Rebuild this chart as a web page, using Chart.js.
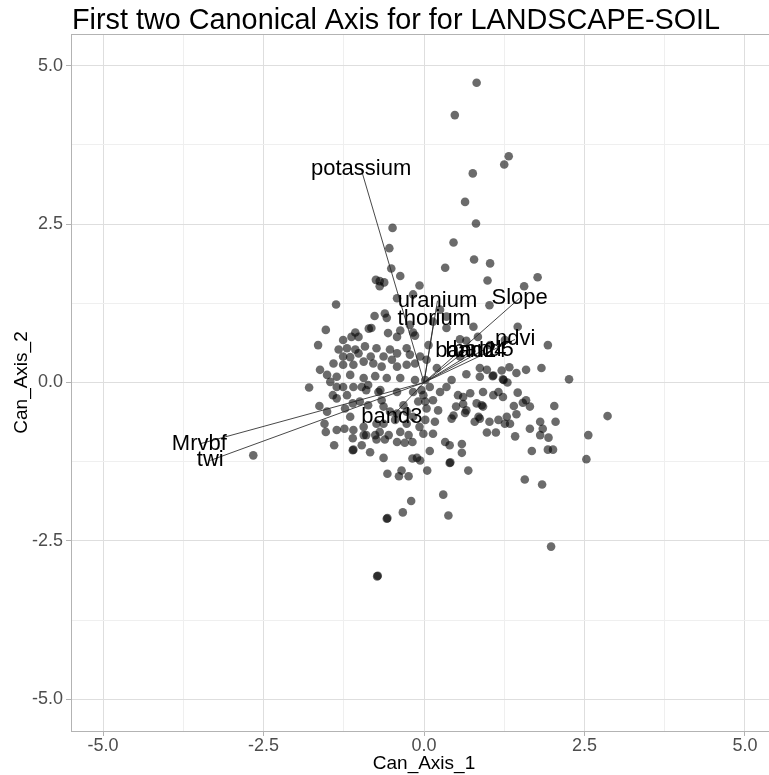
<!DOCTYPE html>
<html>
<head>
<meta charset="utf-8">
<title>Canonical Axis - LANDSCAPE-SOIL</title>
<style>
html, body { margin: 0; padding: 0; overflow: hidden; background: #fff; }
canvas { display: block; }
</style>
<script src="https://cdn.jsdelivr.net/npm/chart.js@4.4.1/dist/chart.umd.min.js"></script>
</head>
<body>
<canvas id="cva" width="785" height="775"></canvas>
<script>
// canonical scores of the sites (first two axes)
var canAxis1 = [
  0.82, 0.48, 1.32, 1.25, 0.76, 0.64, -0.49, 0.81, -0.54, 0.46,
  0.78, 1.03, 0.33, -0.51, -0.37, -0.75, -0.69, -0.62, -0.69, -0.07,
  0.99, 1.77, 1.56, -1.37, -0.42, -0.17, 1.02, -0.77, -0.61, -0.58,
  -0.82, -1.07, -1.13, -0.56, -0.42, -0.17, 0.14, 1.46, 1.93, 1.83,
  2.26, 1.59, 1.44, 1.33, 1.21, 1.07, 1.23, 1.30, 0.87, 0.98,
  0.87, 0.66, 0.56, 1.46, 2.03, 1.59, 1.65, 1.44, 1.40, 1.23,
  1.16, 1.08, 0.90, 0.82, 0.92, 0.72, 0.61, 0.53, 0.66, 0.85,
  0.79, 1.02, 1.16, 1.26, 1.34, 1.29, 0.50, 0.46, 1.81, 1.85,
  1.81, 2.05, 2.86, 2.56, 1.65, 1.42, 1.12, 0.98, 1.93, 2.01,
  1.68, 2.53, 0.59, 0.59, 0.33, 0.40, 0.09, 0.14, -0.01, 0.17,
  0.02, 0.09, 0.02, 0.14, 0.22, 1.54, 1.94, 0.92, 0.64, 0.61,
  0.43, 0.87, 0.40, 0.69, 1.57, 1.84, 0.38, 1.98, -2.66, -1.40,
  -1.53, -1.36, -1.11, -1.11, -0.97, -0.84, -1.10, -0.90, -0.76, -0.69,
  -0.74, -0.61, -0.55, -0.37, -0.24, -0.30, -0.18, -0.63, -0.57, -0.35,
  -0.39, -0.24, -0.18, -0.11, -0.06, 0.05, -0.20, -0.33, -0.58, -0.73,
  0.30, -1.79, -1.63, -1.55, -1.46, -1.36, -1.42, -1.36, -1.20, -1.10,
  -0.97, -0.87, -1.23, -1.11, -1.00, -0.87, -0.71, -1.15, -1.24, -0.94,
  -0.94, -0.42, -0.27, -0.17, -0.07, -0.01, 0.04, -0.09, -0.17, -0.04,
  -0.14, -0.66, -0.63, -0.53, -0.42, -0.32, -0.27, -0.45, -0.63, -0.74,
  -1.51, -0.37, -0.22, 0.35, 0.77, -1.26, -1.02, -0.14, 0.56, 0.66,
  -1.33, -1.20, -1.07, -0.92, -0.74, -0.53, -0.27, 0.07, -1.26, -1.15,
  -1.02, -0.83, -0.63, -0.50, -0.42, -0.22, -0.06, -1.41, -1.26, -1.10,
  -0.94, -0.79, -0.66, -0.42, -0.27, -0.14, 0.20, -1.51, -1.36, -1.15,
  -0.94, -0.76, -0.58, -0.37, 0.02, -1.26, -0.90, -0.68, -0.42, -1.65,
  -1.53, -1.62, 0.25, 0.35, 0.43, 0.35, 0.25, 0.04, 1.03, 1.26,
  0.84, 1.08, -1.10, 0.41, -0.57, -0.72, 1.24, -0.86
];
var canAxis2 = [
  4.73, 4.22, 3.57, 3.44, 3.30, 2.85, 2.44, 2.51, 2.12, 2.21,
  1.94, 1.88, 1.81, 1.80, 1.68, 1.62, 1.60, 1.58, 1.52, 1.53,
  1.61, 1.66, 1.52, 1.23, 1.33, 1.39, 1.22, 1.05, 1.09, 1.02,
  0.86, 0.79, 0.72, 0.78, 0.72, 0.79, 0.96, 0.88, 0.59, 0.23,
  0.05, 0.20, 0.15, 0.24, 0.19, 0.10, 0.05, 0.00, 0.23, 0.20,
  0.09, 0.13, 0.41, -0.16, -0.37, -0.28, -0.38, -0.50, -0.37, -0.23,
  -0.15, -0.20, -0.36, -0.33, -0.15, -0.17, -0.23, -0.20, -0.44, -0.54,
  -0.62, -0.62, -0.59, -0.65, -0.65, -0.54, -0.38, -0.52, -0.62, -0.73,
  -0.83, -0.62, -0.53, -0.83, -0.73, -0.85, -0.79, -0.79, -1.06, -1.06,
  -1.08, -1.21, -0.97, -1.11, -0.94, -0.99, -1.08, -0.81, -0.81, -0.62,
  -0.59, -0.07, -0.30, -0.28, -0.44, -0.32, -0.87, -0.38, -0.48, -0.34,
  -0.57, -0.57, -1.27, -1.39, -1.53, -1.61, -2.10, -2.59, -1.15, -0.99,
  -0.78, -0.75, -0.88, -1.07, -0.99, -1.10, -0.75, -0.83, -0.83, -0.78,
  -0.90, -0.90, -0.83, -0.78, -0.83, -0.95, -0.94, -1.19, -1.44, -1.39,
  -1.48, -1.48, -1.20, -1.19, -1.23, -1.39, -1.87, -2.05, -2.15, -3.06,
  -1.77, -0.08, -0.37, -0.65, 0.01, -0.07, -0.20, -0.25, -0.20, -0.07,
  -0.07, -0.04, -0.41, -0.33, -0.30, -0.36, -0.15, -0.54, -0.73, -0.70,
  -0.83, -0.94, -0.65, -0.54, -0.70, -0.20, -0.41, -0.30, -0.15, -0.12,
  0.04, -0.28, -0.38, -0.46, -0.49, -0.36, -0.46, -0.59, -0.65, -0.65,
  -0.46, 0.82, 0.91, 0.86, 0.88, 0.67, 0.72, 0.74, 0.68, 0.66,
  0.52, 0.54, 0.52, 0.57, 0.54, 0.52, 0.54, 0.59, 0.41, 0.40,
  0.46, 0.41, 0.41, 0.36, 0.46, 0.44, 0.41, 0.30, 0.28, 0.28,
  0.33, 0.30, 0.25, 0.25, 0.28, 0.30, 0.23, 0.12, 0.09, 0.12,
  0.07, 0.10, 0.07, 0.07, 0.04, -0.07, -0.12, -0.12, -0.15, 0.59,
  0.83, 0.20, 1.15, 1.04, 0.04, -0.07, -0.15, 0.36, 0.59, 0.67,
  0.72, 0.11, -1.06, -1.26, -2.14, -3.05, 0.04, 0.85
];

// variable loadings drawn as vectors from the origin
var varNames = ['potassium', 'uranium', 'thorium', 'Slope', 'ndvi', 'band2', 'band4', 'band5', 'band3', 'Mrvbf', 'twi'];
var varAxis1 = [-0.98, 0.21, 0.16, 1.49, 1.42, 0.65, 0.81, 0.92, -0.50, -3.50, -3.33];
var varAxis2 = [3.37, 1.29, 1.01, 1.33, 0.68, 0.50, 0.50, 0.51, -0.54, -0.97, -1.23];

var majorTicks = [-5, -2.5, 0, 2.5, 5];

var FONT = '"Liberation Sans", Arial, Helvetica, sans-serif';
Chart.defaults.font.family = FONT;

function isMajor(v) {
    for (var i = 0; i < majorTicks.length; ++i) {
        if (Math.abs(majorTicks[i] - v) < 1e-6) return true;
    }
    return false;
}
function tickLabel(v) {
    return isMajor(v) ? v.toFixed(1) : '';
}
function gridColor(ctx) {
    if (!ctx.tick) return '#e6e6e6';
    return isMajor(ctx.tick.value) ? '#dedede' : '#efefef';
}
function tickMarkColor(ctx) {
    if (!ctx.tick) return '#b3b3b3';
    return isMajor(ctx.tick.value) ? '#b3b3b3' : 'rgba(0,0,0,0)';
}

var points = [];
for (var i = 0; i < canAxis1.length; ++i) {
    points.push({ x: canAxis1[i], y: canAxis2[i] });
}

var datasets = [{
    label: 'sites',
    data: points,
    pointRadius: 4.3,
    pointHoverRadius: 4.3,
    backgroundColor: 'rgba(0,0,0,0.58)',
    borderWidth: 0,
    order: 2
}];
for (var k = 0; k < varNames.length; ++k) {
    datasets.push({
        label: varNames[k],
        data: [{ x: 0, y: 0 }, { x: varAxis1[k], y: varAxis2[k] }],
        showLine: true,
        pointRadius: 0,
        borderColor: 'rgba(40,40,40,0.85)',
        borderWidth: 1,
        order: 1
    });
}

// title, top panel edge and vector names
var decorations = {
    id: 'decorations',
    afterDatasetsDraw: function (chart) {
        var c = chart.ctx, a = chart.chartArea;
        var sx = chart.scales.x, sy = chart.scales.y;
        c.save();
        c.strokeStyle = '#b3b3b3';
        c.lineWidth = 1;
        c.beginPath();
        c.moveTo(a.left, a.top + 0.5);
        c.lineTo(a.right, a.top + 0.5);
        c.stroke();

        c.fillStyle = '#000';
        c.font = '22px ' + FONT;
        c.textAlign = 'center';
        c.textBaseline = 'middle';
        for (var k = 0; k < varNames.length; ++k) {
            c.fillText(varNames[k], sx.getPixelForValue(varAxis1[k]), sy.getPixelForValue(varAxis2[k]));
        }

        c.font = '28.8px ' + FONT;
        c.textAlign = 'left';
        c.textBaseline = 'alphabetic';
        c.fillText('First two Canonical Axis for for LANDSCAPE-SOIL', a.left + 1, 29);
        c.restore();
    }
};

new Chart(document.getElementById('cva').getContext('2d'), {
    type: 'scatter',
    data: { datasets: datasets },
    plugins: [decorations],
    options: {
        responsive: false,
        animation: false,
        layout: { padding: { top: 34, right: 8, bottom: 0, left: 0 } },
        plugins: {
            legend: { display: false },
            tooltip: { enabled: false },
            title: { display: false }
        },
        scales: {
            x: {
                type: 'linear',
                min: -5.5,
                max: 5.5,
                afterFit: function (s) { s.height = 44; },
                ticks: {
                    stepSize: 1.25, includeBounds: false, autoSkip: false, maxRotation: 0,
                    padding: 1, color: '#4d4d4d', font: { size: 18, lineHeight: 1 },
                    callback: tickLabel
                },
                grid: { color: gridColor, lineWidth: 1, tickLength: 5, tickColor: tickMarkColor },
                border: { display: true, color: '#b3b3b3', width: 1 },
                title: { display: true, text: 'Can_Axis_1', color: '#000', font: { size: 19 }, padding: { top: 0, bottom: 0 } }
            },
            y: {
                type: 'linear',
                min: -5.5,
                max: 5.5,
                afterFit: function (s) { s.width = 71; },
                ticks: {
                    stepSize: 1.25, includeBounds: false, autoSkip: false,
                    padding: 3, color: '#4d4d4d', font: { size: 18, lineHeight: 1 },
                    callback: tickLabel
                },
                grid: { color: gridColor, lineWidth: 1, tickLength: 5, tickColor: tickMarkColor },
                border: { display: true, color: '#b3b3b3', width: 1 },
                title: { display: true, text: 'Can_Axis_2', color: '#000', font: { size: 19 }, padding: { top: 10, bottom: 0 } }
            }
        }
    }
});
</script>
</body>
</html>
